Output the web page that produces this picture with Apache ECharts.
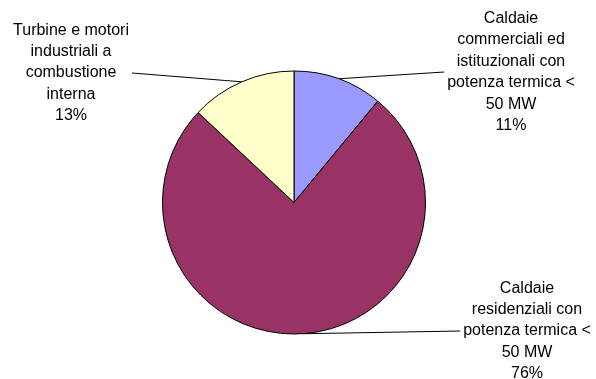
<!DOCTYPE html>
<html>
<head>
<meta charset="utf-8">
<script src="https://cdn.jsdelivr.net/npm/echarts@6/dist/echarts.min.js"></script>
<style>html,body{margin:0;padding:0;background:#fff;}#c{width:596px;height:379px;}</style>
</head>
<body>
<div id="c"></div>
<script>
var categories = [
  "Caldaie\ncommerciali ed\nistituzionali con\npotenza termica <\n50 MW",
  "Caldaie\nresidenziali con\npotenza termica <\n50 MW",
  "Turbine e motori\nindustriali a\ncombustione\ninterna"
];
var values = [11, 76, 13];
var colors = ["#9999FF", "#993366", "#FFFFCC"];

// label placement (layout only): center x, center y, side where the leader line attaches
var labelPos = [
  { x: 511, y: 72, side: "left" },
  { x: 527, y: 331, side: "left" },
  { x: 71, y: 73, side: "right" }
];

var chart = echarts.init(document.getElementById('c'), null, { renderer: 'canvas' });
chart.setOption({
  animation: false,
  backgroundColor: '#fff',
  series: [{
    type: 'pie',
    center: [294, 202.5],
    radius: 131.5,
    startAngle: 90,
    clockwise: true,
    avoidLabelOverlap: false,
    data: categories.map(function (n, i) {
      return { name: n, value: values[i], itemStyle: { color: colors[i] } };
    }),
    itemStyle: { borderColor: '#000', borderWidth: 1 },
    emphasis: { disabled: true },
    label: {
      show: true,
      position: 'outside',
      color: '#000',
      fontFamily: 'Liberation Sans, Arial, sans-serif',
      fontSize: 16,
      lineHeight: 21.4,
      align: 'center',
      formatter: function (p) { return p.name + '\n' + Math.round(p.percent) + '%'; }
    },
    labelLine: {
      show: true,
      length: 0,
      length2: 10,
      lineStyle: { color: '#000', width: 1 }
    },
    labelLayout: function (params) {
      var lp = labelPos[params.dataIndex];
      var w = params.labelRect.width;
      var ax = lp.side === 'left' ? lp.x - w / 2 - 3 : lp.x + w / 2 + 3;
      var p0 = params.labelLinePoints[0];
      return {
        x: lp.x,
        y: lp.y,
        align: 'center',
        verticalAlign: 'middle',
        labelLinePoints: [p0, [ax, lp.y], [ax, lp.y]]
      };
    }
  }]
});
</script>
</body>
</html>
